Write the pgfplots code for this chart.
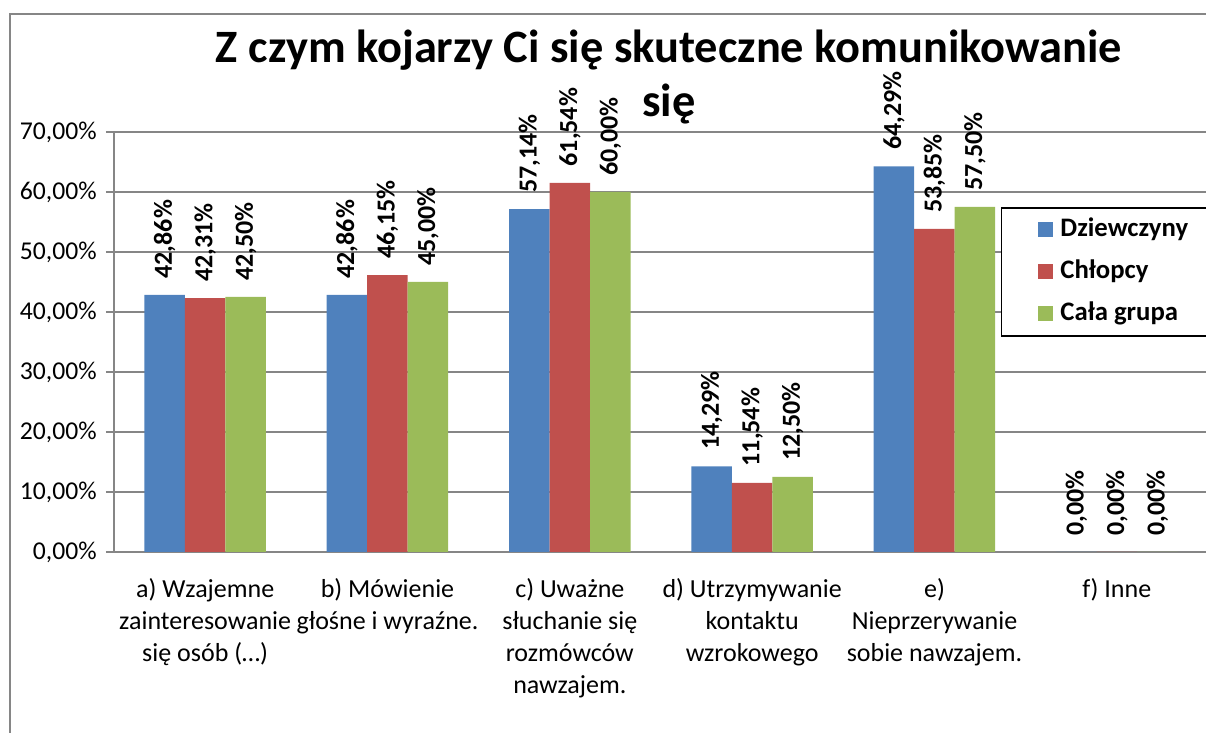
\documentclass[border=0pt]{standalone}
\usepackage{fontspec}
\setmainfont{Carlito}
\usepackage{pgfplots}
\usepackage{pgfplotstable}
\pgfplotsset{compat=1.18}

\definecolor{xblue}{HTML}{4F81BD}
\definecolor{xred}{HTML}{C0504D}
\definecolor{xgreen}{HTML}{9BBB59}
\definecolor{xgrid}{HTML}{868686}

% udzial odpowiedzi w procentach
\pgfplotstableread{
idx girls boys all
0 42.86 42.31 42.50
1 42.86 46.15 45.00
2 57.14 61.54 60.00
3 14.29 11.54 12.50
4 64.29 53.85 57.50
5 0.00  0.00  0.00
}\datatable

\begin{document}
\begin{tikzpicture}
\useasboundingbox (0,0) rectangle (12.06cm,7.33cm);
\draw[xgrid, line width=0.2mm] (0.1cm,-0.5cm) -- (0.1cm,7.19cm) -- (12.6cm,7.19cm);
\begin{axis}[
    at={(1.14cm,1.81cm)}, anchor=south west,
    scale only axis, width=10.94cm, height=4.2cm,
    ybar=0pt, bar width=0.405cm,
    xmin=-0.5, xmax=5.5, ymin=0, ymax=70,
    enlargelimits=false, clip=false,
    axis lines*=left,
    axis line style={xgrid, line width=0.15mm},
    ymajorgrids, grid style={xgrid, line width=0.15mm},
    ytick={0,10,...,70},
    ytick style={xgrid, line width=0.15mm},
    tick align=outside, major tick length=0.8mm,
    /pgf/number format/assume math mode=true,
    yticklabel={\pgfmathprintnumber[fixed,fixed zerofill,precision=2,use comma]{\tick}\%},
    yticklabel style={font=\fontsize{7.3}{8}\selectfont, xshift=0.3mm},
    xtick={0,...,5}, xtick style={draw=none},
    xticklabels={
        {a) Wzajemne\\zainteresowanie\\się osób (…)},
        {b) Mówienie\\głośne i wyraźne.},
        {c) Uważne\\słuchanie się\\rozmówców\\nawzajem.},
        {d) Utrzymywanie\\kontaktu\\wzrokowego},
        {e)\\Nieprzerywanie\\sobie nawzajem.},
        {f) Inne}},
    xticklabel style={font=\fontsize{7.4}{9.1}\selectfont, align=center, anchor=north, yshift=-0.6mm},
    extra x ticks={-0.5,0.5,...,5.5}, extra x tick labels={},
    extra x tick style={grid=none, major tick length=0.9mm,
        tick style={draw=xgrid, line width=0.15mm}},
    point meta=y,
    nodes near coords={\pgfmathprintnumber[fixed,fixed zerofill,precision=2,use comma]{\pgfplotspointmeta}\%},
    every node near coord/.append style={rotate=90, anchor=west, black,
        font=\bfseries\fontsize{7.4}{9}\selectfont, xshift=0.4mm},
    legend style={at={(rel axis cs:0.8105,0.8214)}, anchor=north west,
        draw=black, line width=0.15mm, inner xsep=0pt, inner ysep=0.9mm,
        font=\bfseries\fontsize{7.6}{9}\selectfont, row sep=1.6mm,
        nodes={inner sep=0pt, text height=2.0mm, text depth=0.6mm}},
    legend cell align=left,
    legend image code/.code={
        \path[draw=none, fill=none] (0,0) -- (0.59cm,0);
        \fill[#1,draw=none] (0.37cm,-0.075cm) rectangle (0.52cm,0.075cm);},
]
\addplot[fill=xblue, draw=none] table[x=idx, y=girls] {\datatable};
\addlegendentry{Dziewczyny\hspace*{30mm}}
\addplot[fill=xred, draw=none] table[x=idx, y=boys] {\datatable};
\addlegendentry{Chłopcy}
\addplot[fill=xgreen, draw=none] table[x=idx, y=all] {\datatable};
\addlegendentry{Cała grupa}
\end{axis}
\node[font=\bfseries\fontsize{13.2}{15.5}\selectfont, align=center] at (6.69cm,6.56cm)
    {Z czym kojarzy Ci się skuteczne komunikowanie\\się};
\end{tikzpicture}
\end{document}
